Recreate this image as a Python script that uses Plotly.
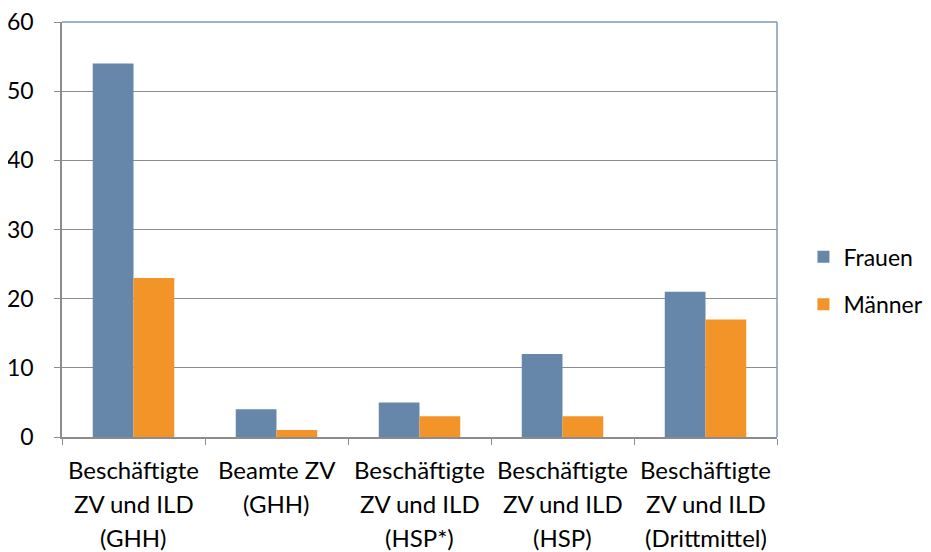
import plotly.graph_objects as go

categories = [
    "Beschäftigte<br>ZV und ILD<br>(GHH)",
    "Beamte ZV<br>(GHH)",
    "Beschäftigte<br>ZV und ILD<br>(HSP*)",
    "Beschäftigte<br>ZV und ILD<br>(HSP)",
    "Beschäftigte<br>ZV und ILD<br>(Drittmittel)",
]
frauen = [54, 4, 5, 12, 21]
maenner = [23, 1, 3, 3, 17]
y_ticks = [0, 10, 20, 30, 40, 50, 60]

FONT = "Lato, Open Sans, sans-serif"
BLUE = "#6787AA"
ORANGE = "#F39428"
GRID = "#8C8C8C"

fig = go.Figure()
fig.add_trace(go.Bar(x=list(range(len(categories))), y=frauen, name="Frauen",
                     marker=dict(color=BLUE, line=dict(width=0)), legend="legend"))
fig.add_trace(go.Bar(x=list(range(len(categories))), y=maenner, name="Männer",
                     marker=dict(color=ORANGE, line=dict(width=0)), legend="legend2"))

# category labels as annotations (line by line for Excel-like spacing)
for i, lab in enumerate(categories):
    for j, line in enumerate(lab.split("<br>")):
        fig.add_annotation(x=i, y=0, xref="x", yref="paper", text=line,
                           showarrow=False, yanchor="middle",
                           yshift=-32 - 34 * j,
                           font=dict(family=FONT, size=24, color="#000000"))

# top and right border
fig.add_shape(type="line", xref="paper", yref="paper", x0=0, x1=1, y0=1, y1=1,
              line=dict(color="#7F98B4", width=1.5))
fig.add_shape(type="line", xref="paper", yref="paper", x0=1, x1=1, y0=0, y1=1,
              line=dict(color="#7F98B4", width=1.5))

fig.update_layout(
    width=923, height=544,
    margin=dict(l=54, r=154, t=14, b=115, autoexpand=False),
    paper_bgcolor="white", plot_bgcolor="white",
    barmode="group", bargap=0.43, bargroupgap=0,
    font=dict(family=FONT, size=24, color="#000000"),
    showlegend=True,
    legend=dict(x=1.037, y=0.434, xanchor="left", yanchor="middle",
                font=dict(family=FONT, size=23), bgcolor="rgba(0,0,0,0)"),
    legend2=dict(x=1.037, y=0.320, xanchor="left", yanchor="middle",
                 font=dict(family=FONT, size=23), bgcolor="rgba(0,0,0,0)"),
)
fig.update_xaxes(
    range=[-0.5, len(categories) - 0.5],
    tickmode="array", tickvals=[i - 0.5 for i in range(len(categories) + 1)],
    ticktext=[""] * (len(categories) + 1),
    ticks="outside", ticklen=6, tickcolor=GRID,
    showline=True, linecolor=GRID, linewidth=1.5,
    showgrid=False, zeroline=False, automargin=False,
)
fig.update_yaxes(
    range=[0, 60], tickvals=y_ticks, ticktext=[str(v) for v in y_ticks],
    ticks="outside", ticklen=6, tickcolor=GRID,
    showline=True, linecolor=GRID, linewidth=1.5,
    showgrid=True, gridcolor=GRID, gridwidth=1, zeroline=False,
    tickfont=dict(family=FONT, size=23), ticklabelstandoff=16, automargin=False,
    ticklabeloverflow="allow",
)

fig.write_html("out.html")
